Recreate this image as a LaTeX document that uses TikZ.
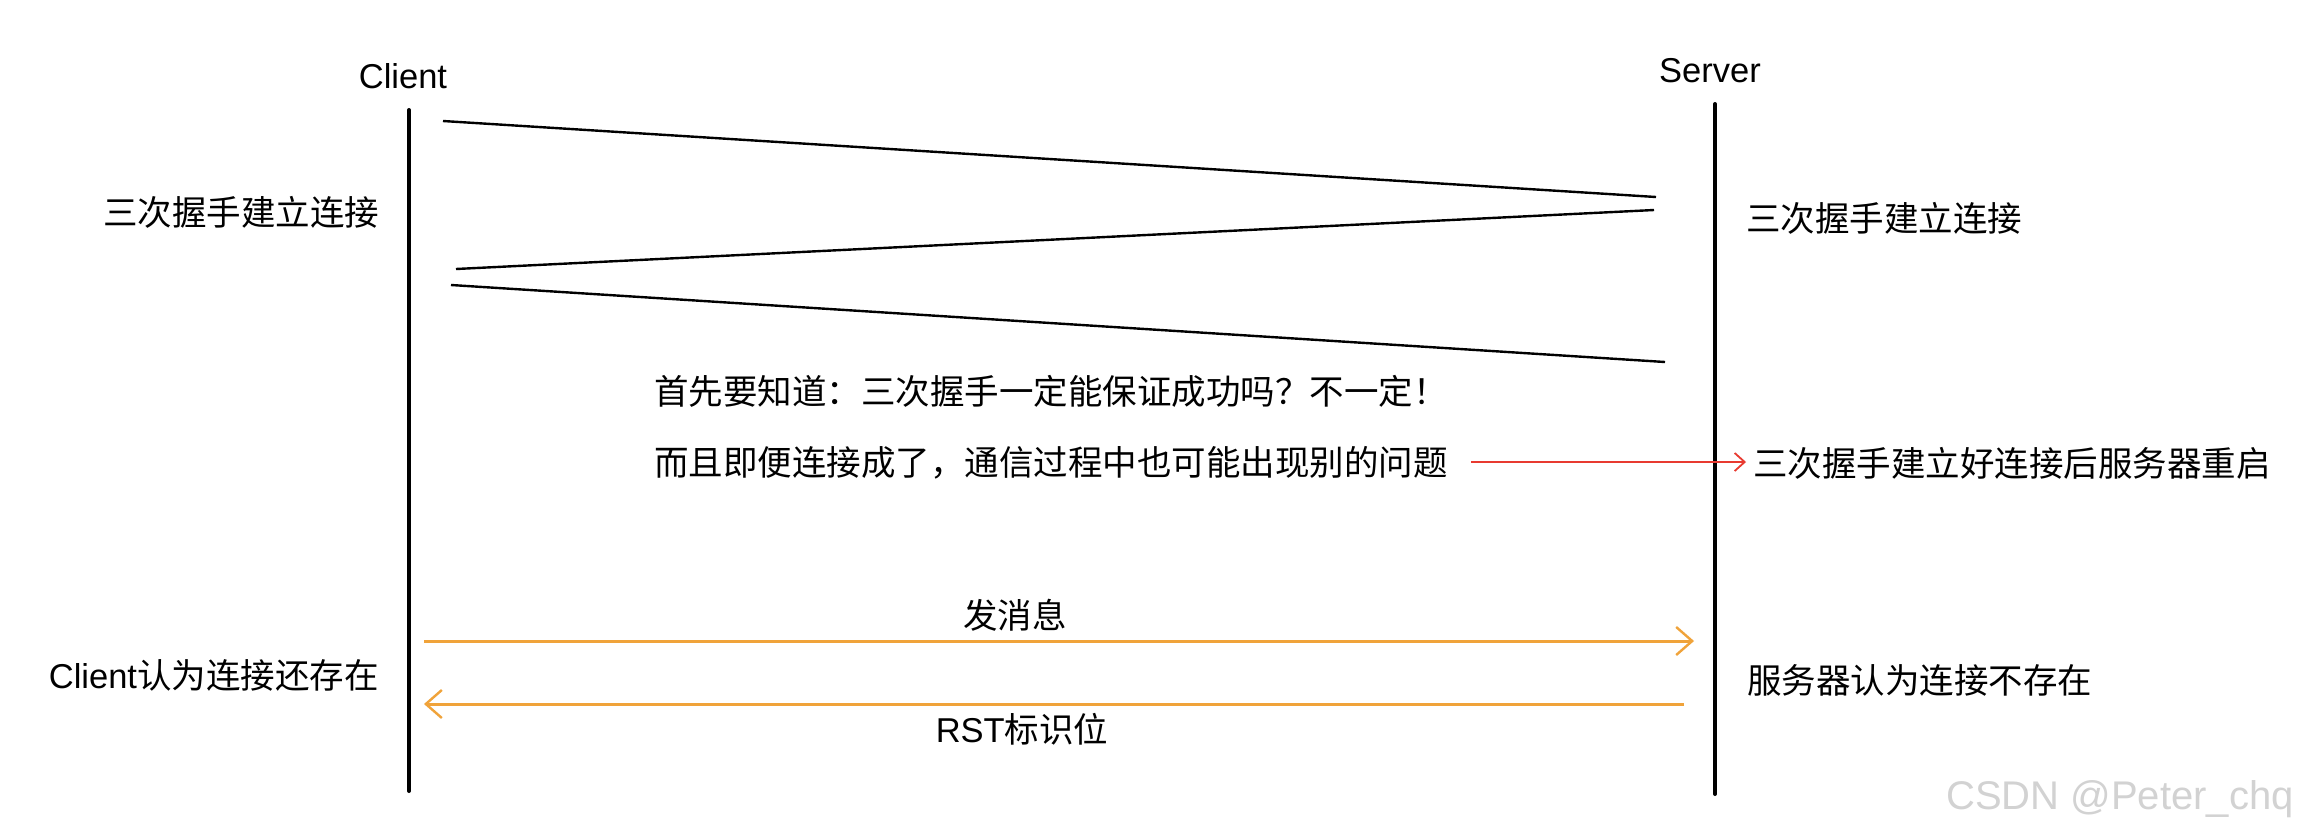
\documentclass[tikz,border=0pt]{standalone}
\usepackage{fontspec}
\setmainfont{Liberation Sans}
\newfontfamily\cjk{Noto Sans CJK SC}
\usetikzlibrary{arrows.meta}
\definecolor{msgorange}{HTML}{F0A33A}
\definecolor{noteRed}{HTML}{E83A30}
\begin{document}
\begin{tikzpicture}[x=0.5pt,y=-0.5pt,
  txt/.style={font=\fontsize{17.25pt}{20pt}\selectfont, inner sep=0pt},
  life/.style={line width=2pt, line cap=round},
  hs/.style={line width=1.2pt},
  msg/.style={draw=msgorange, line width=1.5pt, -{Straight Barb[length=8pt,width=14pt,line width=1.2pt]}},
  note/.style={draw=noteRed, line width=1pt, -{Straight Barb[length=5pt,width=9pt,line width=0.9pt]}}]
\fill[white] (0,0) rectangle (2306,836);
\useasboundingbox (0,0) rectangle (2306,836);
% headers
\node[txt] (client) at (403,76) {Client};
\node[txt] (server) at (1710,71) {Server};
% lifelines
\coordinate (cT) at (409,110);
\coordinate (cB) at (409,791);
\coordinate (sT) at (1715,104);
\coordinate (sB) at (1715,794);
\draw[life] (cT) -- (cB);
\draw[life] (sT) -- (sB);
% handshake
\coordinate (h1a) at (443,121);
\coordinate (h1b) at (1656,197);
\coordinate (h2a) at (1654,210);
\coordinate (h2b) at (456,269);
\coordinate (h3a) at (451,285);
\coordinate (h3b) at (1665,362);
\draw[hs] (h1a) -- (h1b);
\draw[hs] (h2a) -- (h2b);
\draw[hs] (h3a) -- (h3b);
% texts
\node[txt] (lhs) at (241,212) {\cjk 三次握手建立连接};
\node[txt, anchor=west] (rhs) at (1746,218) {\cjk 三次握手建立连接};
\node[txt, anchor=west] (q1) at (654,391) {\cjk 首先要知道：三次握手一定能保证成功吗？不一定！};
\node[txt, anchor=west] (q2) at (654,463) {\cjk 而且即便连接成了，通信过程中也可能出现别的问题};
\node[txt, anchor=west] (restart) at (1753,463) {\cjk 三次握手建立好连接后服务器重启};
\node[txt] (send) at (1015,615) {\cjk 发消息};
\node[txt] (rst) at (1022,729) {RST{\cjk 标识位}};
\node[txt, anchor=east] (cexist) at (379,675) {Client{\cjk 认为连接还存在}};
\node[txt, anchor=west] (snot) at (1747,680) {\cjk 服务器认为连接不存在};
% red note arrow
\coordinate (r1) at (1471,462);
\coordinate (r2) at (1746,462);
\draw[note] (r1) -- (r2);
% messages
\coordinate (m1a) at (424,641);
\coordinate (m1b) at (1694,641);
\coordinate (m2a) at (1684,704);
\coordinate (m2b) at (424,704);
\draw[msg] (m1a) -- (m1b);
\draw[msg] (m2a) -- (m2b);
% watermark
\node[anchor=east, inner sep=0pt, font=\fontsize{20pt}{24pt}\selectfont, text=gray!35] (wm) at (2294,799) {CSDN @Peter\_chq};
\end{tikzpicture}
\end{document}
